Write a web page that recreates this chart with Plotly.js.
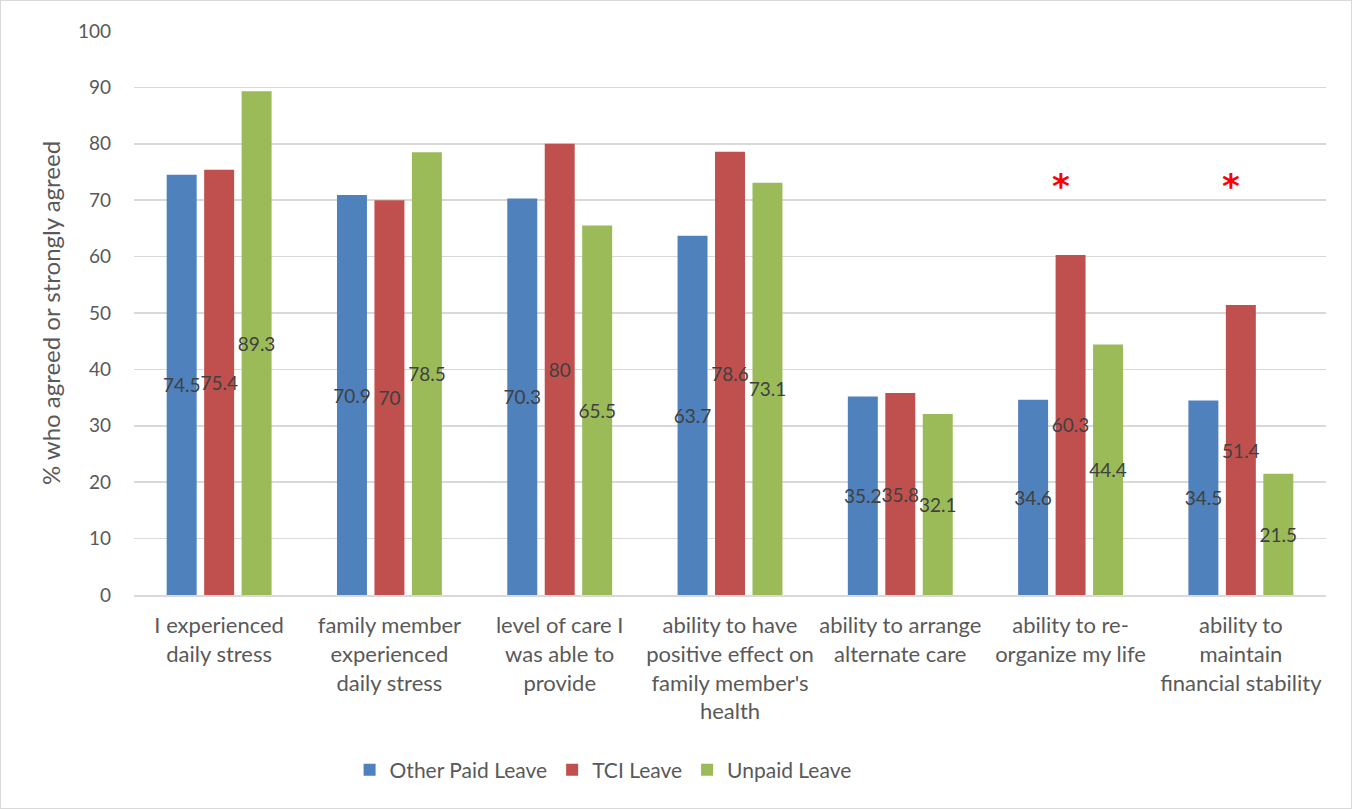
<!DOCTYPE html>
<html>
<head>
<meta charset="utf-8">
<script src="https://cdn.plot.ly/plotly-3.0.1.min.js"></script>
<style>
html,body{margin:0;padding:0;background:#fff;}
#chart{width:1350px;height:807px;border:1px solid #d9d9d9;}
</style>
</head>
<body>
<div id="chart"></div>
<script>
var categories = [
  "I experienced<br>daily stress",
  "family member<br>experienced<br>daily stress",
  "level of care I<br>was able to<br>provide",
  "ability to have<br>positive effect on<br>family member's<br>health",
  "ability to arrange<br>alternate care",
  "ability to re-<br>organize my life",
  "ability to<br>maintain<br>financial stability"
];
var otherPaid = [74.5, 70.9, 70.3, 63.7, 35.2, 34.6, 34.5];
var tciLeave  = [75.4, 70, 80, 78.6, 35.8, 60.3, 51.4];
var unpaid    = [89.3, 78.5, 65.5, 73.1, 32.1, 44.4, 21.5];
var significant = [false, false, false, false, false, true, true];
var seriesNames = ["Other Paid Leave", "TCI Leave", "Unpaid Leave"];
var yTicks = [0,10,20,30,40,50,60,70,80,90,100];

var FONT = "Lato, 'Liberation Sans', sans-serif";
var colors = ["#4F81BD", "#C0504D", "#9BBB59"];
var seriesVals = [otherPaid, tciLeave, unpaid];

var traces = seriesVals.map(function(v, i){
  return {
    type: "bar",
    name: seriesNames[i],
    x: categories,
    y: v,
    text: v.map(String),
    textposition: "inside",
    insidetextanchor: "middle",
    textangle: 0,
    constraintext: "none",
    cliponaxis: false,
    textfont: {family: FONT, size: 19, color: "#404040"},
    insidetextfont: {family: FONT, size: 19, color: "#404040"},
    marker: {color: colors[i]},
    hoverinfo: "none"
  };
});

var annotations = [];
significant.forEach(function(s, i){
  if (s) {
    annotations.push({
      x: categories[i], y: 73, xref: "x", yref: "y",
      text: "*", showarrow: false, xshift: -10, yshift: -3,
      font: {family: "'DejaVu Sans', sans-serif", size: 34, color: "#FF0000", weight: "bold"}
    });
  }
});

var layout = {
  width: 1350, height: 807,
  paper_bgcolor: "#ffffff", plot_bgcolor: "#ffffff",
  margin: {l: 133, r: 25, t: 30, b: 213, autoexpand: false},
  barmode: "group",
  bargap: 0.34,
  bargroupgap: 0.2,
  font: {family: FONT, color: "#595959"},
  showlegend: true,
  legend: {
    orientation: "h", x: 0.446, xanchor: "center", xref: "container",
    y: 0.047, yanchor: "middle", yref: "container",
    font: {family: FONT, size: 21, color: "#595959"},
    itemwidth: 30, traceorder: "normal"
  },
  xaxis: {
    type: "category", automargin: false,
    tickfont: {family: FONT, size: 22, color: "#595959"},
    showline: true, linecolor: "#d9d9d9", linewidth: 2,
    ticks: "", showgrid: false, tickangle: 0,
    ticklabelstandoff: 10
  },
  yaxis: {
    range: [0, 100], automargin: false,
    tickvals: yTicks,
    tickfont: {family: FONT, size: 19, color: "#595959"},
    showgrid: true, gridcolor: "#d9d9d9", gridwidth: 1.5,
    zeroline: false, showline: false, ticks: "",
    ticklabelstandoff: 22,
    title: {text: "% who agreed or strongly agreed", font: {family: FONT, size: 24, color: "#595959"}, standoff: 10}
  },
  annotations: annotations
};

Plotly.newPlot("chart", traces, layout, {displayModeBar: false, staticPlot: true});
</script>
</body>
</html>
